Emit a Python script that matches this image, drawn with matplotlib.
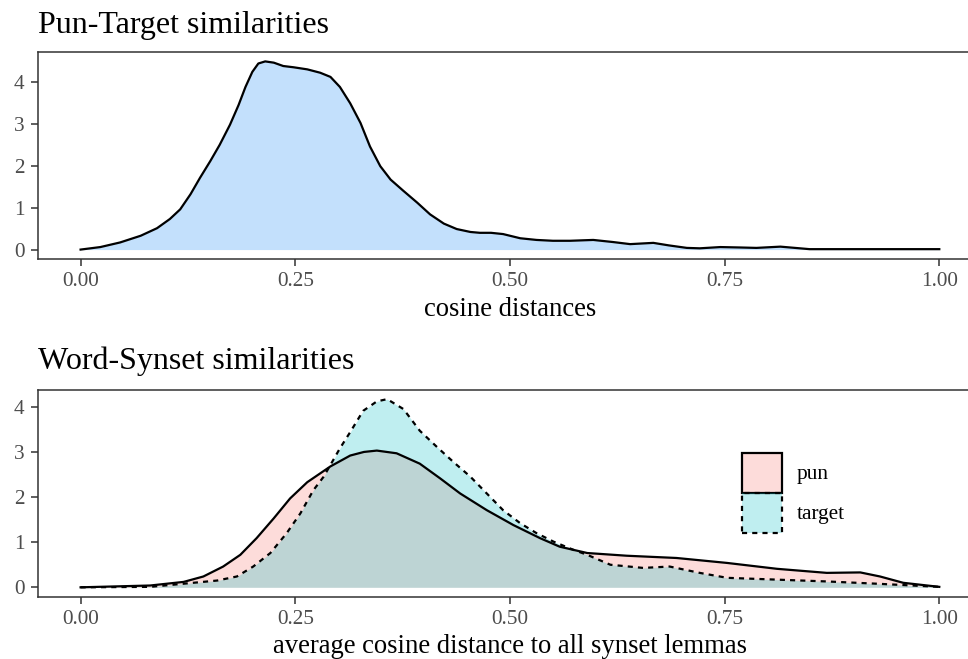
import numpy as np
import matplotlib.pyplot as plt
from matplotlib.patches import Patch

plt.rcParams['font.family'] = ['Liberation Serif', 'DejaVu Serif']

# --- data ---
# top panel: pun-target cosine distances (density)
pt_x = [0.00, 0.023, 0.046, 0.070, 0.089, 0.104, 0.116, 0.128, 0.139, 0.151,
        0.162, 0.174, 0.184, 0.192, 0.200, 0.207, 0.215, 0.225, 0.236, 0.248,
        0.264, 0.279, 0.291, 0.302, 0.314, 0.326, 0.337, 0.349, 0.361, 0.376,
        0.392, 0.407, 0.423, 0.438, 0.454, 0.465, 0.478, 0.492, 0.500, 0.512,
        0.531, 0.550, 0.570, 0.597, 0.620, 0.640, 0.667, 0.685, 0.706, 0.721,
        0.745, 0.768, 0.787, 0.815, 0.849, 0.900, 1.000]
pt_y = [0.00, 0.06, 0.17, 0.33, 0.51, 0.73, 0.96, 1.32, 1.71, 2.11,
        2.50, 2.98, 3.45, 3.88, 4.24, 4.44, 4.49, 4.46, 4.38, 4.35,
        4.30, 4.22, 4.12, 3.88, 3.49, 3.02, 2.46, 1.99, 1.67, 1.40,
        1.12, 0.84, 0.62, 0.49, 0.42, 0.40, 0.40, 0.37, 0.33, 0.27,
        0.23, 0.21, 0.21, 0.23, 0.18, 0.13, 0.16, 0.10, 0.04, 0.03,
        0.06, 0.05, 0.04, 0.07, 0.01, 0.01, 0.01]

# bottom panel: word-synset average cosine distance, pun vs target
pun_x = [0.00, 0.081, 0.120, 0.143, 0.166, 0.186, 0.205, 0.225, 0.244, 0.264,
         0.291, 0.314, 0.330, 0.345, 0.368, 0.395, 0.419, 0.442, 0.473, 0.504,
         0.535, 0.558, 0.590, 0.636, 0.694, 0.753, 0.811, 0.869, 0.908, 0.931,
         0.958, 1.000]
pun_y = [0.00, 0.04, 0.12, 0.24, 0.46, 0.72, 1.09, 1.53, 1.97, 2.33,
         2.68, 2.92, 3.00, 3.03, 2.97, 2.74, 2.41, 2.08, 1.71, 1.38,
         1.09, 0.90, 0.76, 0.70, 0.65, 0.54, 0.41, 0.32, 0.33, 0.24,
         0.10, 0.01]

tgt_x = [0.00, 0.081, 0.120, 0.159, 0.182, 0.201, 0.221, 0.240, 0.256, 0.271,
         0.283, 0.293, 0.302, 0.314, 0.329, 0.345, 0.357, 0.376, 0.395, 0.415,
         0.434, 0.454, 0.473, 0.492, 0.512, 0.531, 0.551, 0.574, 0.590, 0.617,
         0.655, 0.686, 0.721, 0.753, 0.811, 0.869, 0.927, 1.000]
tgt_y = [0.00, 0.01, 0.08, 0.15, 0.24, 0.46, 0.76, 1.20, 1.64, 2.15,
         2.45, 2.78, 3.08, 3.44, 3.91, 4.12, 4.17, 3.95, 3.47, 3.11,
         2.78, 2.45, 2.08, 1.71, 1.42, 1.20, 1.01, 0.83, 0.72, 0.50,
         0.43, 0.46, 0.32, 0.21, 0.17, 0.13, 0.08, 0.01]

x_ticks = [0.0, 0.25, 0.5, 0.75, 1.0]
x_labels = ['0.00', '0.25', '0.50', '0.75', '1.00']
y_ticks = [0, 1, 2, 3, 4]

# --- style ---
GREY20 = '#333333'
GREY30 = '#4D4D4D'
LW = 1.6
DASH = (0, (2.3, 2.3))
TICK_FS = 15.3
LAB_FS = 19.2
TITLE_FS = 23


def style_axes(ax, ymax):
    # ggplot-like 5% expansion on both axes
    ax.set_xlim(-0.05, 1.05)
    ax.set_ylim(-0.05 * ymax, 1.05 * ymax)
    ax.set_xticks(x_ticks)
    ax.set_xticklabels(x_labels)
    ax.set_yticks(y_ticks)
    for s in ax.spines.values():
        s.set_color(GREY20)
        s.set_linewidth(1.1)
    ax.tick_params(length=5, width=1.1, color=GREY20, labelcolor=GREY30,
                   labelsize=TICK_FS, pad=4.5)


fig = plt.figure(figsize=(9.68, 6.59), dpi=100)

# top panel (right edge runs past the figure, as in the reference)
ax1 = fig.add_axes([0.0389, 0.607, 0.9758, 0.3141])
ax1.fill_between(pt_x, pt_y, 0, color='#C3E0FC', linewidth=0)
ax1.plot(pt_x, pt_y, color='black', lw=LW, solid_joinstyle='round')
style_axes(ax1, max(pt_y))
ax1.set_xlabel('cosine distances', fontsize=LAB_FS, labelpad=4)
ax1.set_title('Pun-Target similarities', loc='left', fontsize=TITLE_FS, pad=14)

# bottom panel
ax2 = fig.add_axes([0.0389, 0.0945, 0.9758, 0.3141])
ax2.fill_between(pun_x, pun_y, 0, color='#F8766D', alpha=0.25, linewidth=0)
ax2.plot(pun_x, pun_y, color='black', lw=LW, solid_joinstyle='round')
ax2.fill_between(tgt_x, tgt_y, 0, color='#00BFC4', alpha=0.25, linewidth=0)
ax2.plot(tgt_x, tgt_y, color='black', lw=LW, linestyle=DASH)
style_axes(ax2, max(tgt_y))
ax2.set_xlabel('average cosine distance to all synset lemmas', fontsize=LAB_FS, labelpad=4)
ax2.set_title('Word-Synset similarities', loc='left', fontsize=TITLE_FS, pad=15)

handles = [
    Patch(facecolor=(0.973, 0.463, 0.427, 0.25), edgecolor='black', lw=LW),
    Patch(facecolor=(0.0, 0.749, 0.769, 0.25), edgecolor='black', lw=LW,
          linestyle=DASH),
]
# key boxes ~40px square and touching, like ggplot keys
ax2.legend(handles, ['pun', 'target'], loc='upper left',
           bbox_to_anchor=(0.7456, 0.6957), frameon=False, fontsize=TICK_FS,
           handlelength=1.88, handleheight=2.52, handletextpad=0.7,
           labelspacing=0, borderpad=0, borderaxespad=0)

fig.savefig('out.png', dpi=100)
